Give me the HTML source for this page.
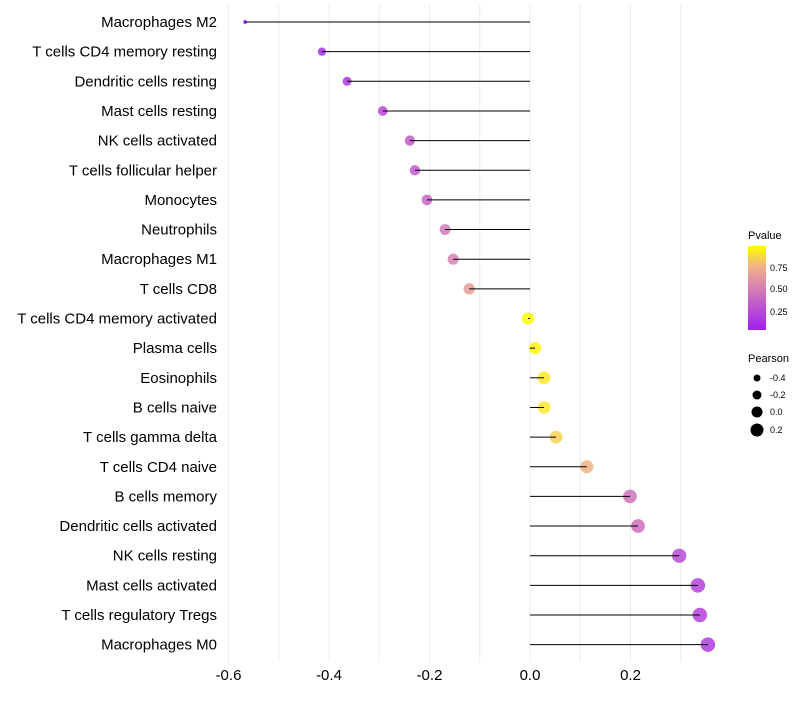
<!DOCTYPE html>
<html><head><meta charset="utf-8"><style>body{margin:0;background:#fff}svg{font-family:"Liberation Sans",sans-serif}</style></head>
<body>
<svg id="c" width="800" height="700">
<defs><linearGradient id="pg" x1="0" y1="1" x2="0" y2="0">
<stop offset="0" stop-color="#a01ff0"/><stop offset="0.5" stop-color="#d680b4"/><stop offset="0.75" stop-color="#f0b088"/><stop offset="1" stop-color="#ffff00"/></linearGradient></defs>
<g id="grid"></g><g id="marks"></g><g id="labels"></g>
<g>
<text x="748" y="239" font-size="11">Pvalue</text>
<rect x="748" y="246" width="18" height="84" fill="url(#pg)"/>
<text x="770" y="271" font-size="9">0.75</text><text x="770" y="292" font-size="9">0.50</text><text x="770" y="315" font-size="9">0.25</text>
</g>
<g>
<text x="748" y="362" font-size="11">Pearson</text>
<circle cx="757" cy="378" r="3.5"/><text x="770" y="381" font-size="9">-0.4</text>
<circle cx="757" cy="395" r="4.5"/><text x="770" y="398" font-size="9">-0.2</text>
<circle cx="757" cy="412" r="5.5"/><text x="770" y="415" font-size="9">0.0</text>
<circle cx="757" cy="430" r="6.5"/><text x="770" y="433" font-size="9">0.2</text>
</g>
</svg>
<script>
const categories=["Macrophages M2","T cells CD4 memory resting","Dendritic cells resting","Mast cells resting","NK cells activated","T cells follicular helper","Monocytes","Neutrophils","Macrophages M1","T cells CD8","T cells CD4 memory activated","Plasma cells","Eosinophils","B cells naive","T cells gamma delta","T cells CD4 naive","B cells memory","Dendritic cells activated","NK cells resting","Mast cells activated","T cells regulatory  Tregs ","Macrophages M0"];
const pearson=[-0.567,-0.414,-0.364,-0.293,-0.239,-0.229,-0.205,-0.169,-0.153,-0.121,-0.004,0.010,0.028,0.028,0.052,0.113,0.199,0.215,0.297,0.334,0.338,0.354];
const pvalue=[0.05,0.1,0.15,0.25,0.33,0.33,0.38,0.48,0.52,0.65,0.98,0.96,0.92,0.92,0.85,0.76,0.45,0.42,0.25,0.2,0.2,0.18];
const xticks=[-0.6,-0.4,-0.2,0.0,0.2];
const NS="http://www.w3.org/2000/svg";
const x=v=>530+v*502.5, y=i=>22+i*29.65;
function mk(t,a,p){const e=document.createElementNS(NS,t);for(const k in a)e.setAttribute(k,a[k]);p.appendChild(e);return e;}
function lerp(a,b,t){return a.map((v,i)=>Math.round(v+(b[i]-v)*t));}
function col(p){const s=[[0,[160,31,240]],[0.5,[214,128,180]],[0.75,[240,176,136]],[1,[255,255,0]]];const t=(p-0.034)/(0.99-0.034);const c=Math.max(0,Math.min(1,t));for(let i=1;i<s.length;i++)if(c<=s[i][0]){const q=(c-s[i-1][0])/(s[i][0]-s[i-1][0]);return "rgb("+lerp(s[i-1][1],s[i][1],q).join(",")+")";}return "rgb(255,255,0)";}
const g=document.getElementById('grid'),m=document.getElementById('marks'),l=document.getElementById('labels');
for(let v=-0.6;v<=0.31;v+=0.1){const ln=mk('line',{x1:x(v),x2:x(v),y1:5,y2:662,stroke:'#ececec','stroke-width':1},g);

}
xticks.forEach(v=>{const t=mk('text',{x:x(v),y:680,'font-size':15,'text-anchor':'middle',fill:'#000'},l);t.textContent=v.toFixed(1);

});
categories.forEach((c,i)=>{const t=mk('text',{x:217,y:y(i)+5,'font-size':15,'text-anchor':'end',fill:'#000'},l);t.textContent=c;


const r=2+5.3*Math.sqrt(Math.max(0,(pearson[i]+0.567)/0.921));
const d=mk('circle',{cx:x(pearson[i]),cy:y(i),r:r,fill:col(pvalue[i]),'fill-opacity':0.85},m);

});
categories.forEach((c,i)=>{const s=mk('line',{x1:x(0),x2:x(pearson[i]),y1:y(i),y2:y(i),stroke:'#000','stroke-width':1},m);

});
</script>
</body></html>
